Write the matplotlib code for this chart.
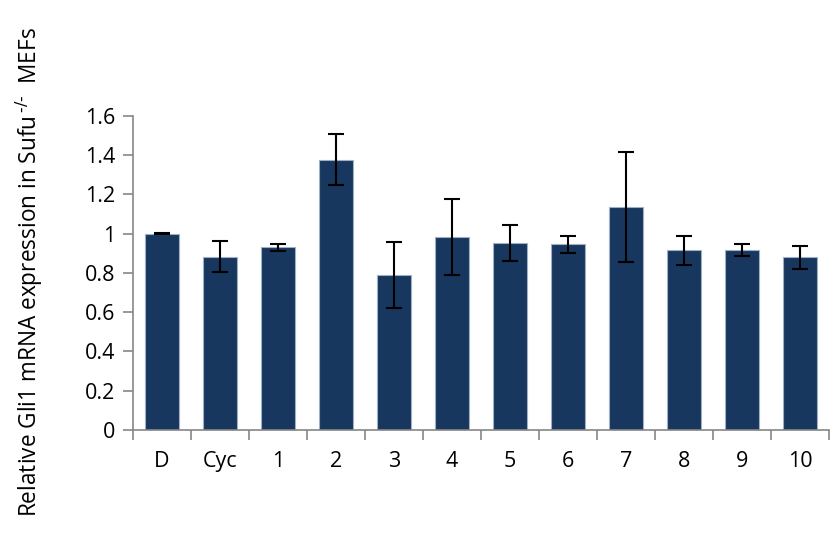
import numpy as np
import matplotlib
matplotlib.use('Agg')
import matplotlib.pyplot as plt
from matplotlib.ticker import FuncFormatter

# Gli1 expression relative to DMSO, mean and error per treatment
categories = ['D', 'Cyc', '1', '2', '3', '4', '5', '6', '7', '8', '9', '10']
means = [1.00, 0.883, 0.930, 1.377, 0.790, 0.985, 0.951, 0.947, 1.138, 0.915, 0.918, 0.879]
errors = [0.003, 0.078, 0.016, 0.130, 0.170, 0.193, 0.092, 0.044, 0.280, 0.072, 0.029, 0.058]

plt.rcParams['font.family'] = ['Open Sans', 'DejaVu Sans']

fig = plt.figure(figsize=(8.3, 5.36), dpi=100)
ax = fig.add_axes([0.1602, 0.1978, 0.8388, 0.5858])

x = np.arange(len(categories))
ax.bar(x, means, width=0.58, color='#17375E', edgecolor='#9fb0c6', linewidth=0.8, zorder=2)
ax.errorbar(x, means, yerr=errors, fmt='none', ecolor='black', elinewidth=1.5,
            capsize=6, capthick=1.5, zorder=3)

ax.set_xlim(-0.5, len(categories) - 0.5)
ax.set_ylim(0, 1.6)
ax.set_yticks(np.arange(0, 1.61, 0.2))
ax.yaxis.set_major_formatter(FuncFormatter(lambda v, p: '%g' % round(v, 1)))

# category ticks sit between bars, labels centred under each bar
ax.set_xticks(np.arange(-0.5, len(categories), 1.0))
ax.set_xticklabels([])
ax.set_xticks(x, minor=True)
ax.set_xticklabels(categories, minor=True)
ax.tick_params(axis='x', which='minor', length=0, pad=15, labelsize=15.5)
ax.tick_params(axis='x', which='major', length=7, width=1.2, color='#868686')
ax.tick_params(axis='y', length=7, width=1.2, color='#868686', labelsize=15.5, pad=6)

for side in ['top', 'right']:
    ax.spines[side].set_visible(False)
for side in ['left', 'bottom']:
    ax.spines[side].set_color('#868686')
    ax.spines[side].set_linewidth(1.2)

fig.text(0.036, 0.493, r'Relative Gli1 mRNA expression in Sufu$^{\,\text{-/-}}$  MEFs',
         rotation=90, ha='center', va='center', fontsize=16.3)

fig.savefig('out.png', dpi=100)
